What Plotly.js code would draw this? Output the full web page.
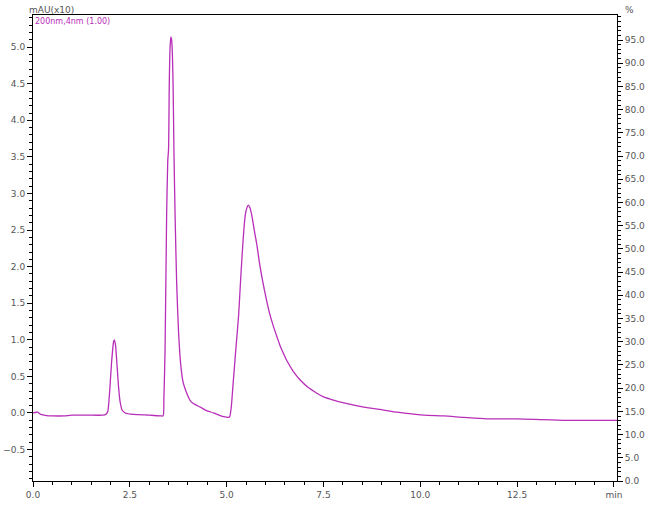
<!DOCTYPE html>
<html>
<head>
<meta charset="utf-8">
<script src="https://cdn.plot.ly/plotly-3.0.1.min.js"></script>
<style>
  body { margin: 0; background: #fff; }
  #grafica { width: 660px; height: 505px; }
</style>
</head>
<body>
<div id="grafica"></div>
<script>
const tiempos = [0.00, 0.08, 0.12, 0.20, 0.35, 0.50, 0.80, 1.00, 1.40, 1.80, 1.88, 1.93, 1.98, 2.03, 2.08, 2.10,
    2.13, 2.17, 2.21, 2.25, 2.30, 2.38, 2.60, 3.00, 3.30, 3.36, 3.38, 3.41, 3.45, 3.48, 3.50, 3.52, 3.54, 3.56,
    3.58, 3.60, 3.62, 3.64, 3.67, 3.71, 3.76, 3.82, 3.88, 3.97, 4.06, 4.14, 4.32, 4.45, 4.66, 4.80, 4.92, 5.05,
    5.08, 5.12, 5.16, 5.20, 5.25, 5.31, 5.37, 5.43, 5.48, 5.52, 5.56, 5.60, 5.65, 5.71, 5.78, 5.84, 5.91,
    5.98, 6.04, 6.12, 6.21, 6.30, 6.38, 6.47, 6.56, 6.72, 6.90, 7.10, 7.33, 7.50, 7.67, 8.00, 8.54, 9.05, 9.40,
    10.09, 10.60, 11.12, 11.72, 12.50, 13.10, 13.70, 14.40, 15.08];
const absorbancia = [0.00, 0.01, 0.01, -0.02, -0.035, -0.04, -0.04, -0.03, -0.03, -0.03, -0.02, 0.02, 0.30, 0.70, 0.97, 1.00,
    0.93, 0.65, 0.35, 0.15, 0.04, 0.00, -0.02, -0.03, -0.04, -0.04, 0.20, 0.86, 2.68, 3.45, 3.60, 4.55, 5.00, 5.14,
    5.10, 4.89, 4.40, 3.55, 2.68, 1.77, 1.09, 0.63, 0.41, 0.27, 0.17, 0.13, 0.08, 0.04, 0.00, -0.03, -0.05, -0.06,
    -0.05, 0.08, 0.35, 0.62, 0.95, 1.34, 1.90, 2.40, 2.70, 2.80, 2.84, 2.81, 2.70, 2.51, 2.30, 2.08, 1.86,
    1.67, 1.52, 1.34, 1.18, 1.04, 0.92, 0.81, 0.71, 0.57, 0.45, 0.35, 0.27, 0.22, 0.19, 0.14, 0.08, 0.04, 0.01,
    -0.03, -0.04, -0.06, -0.08, -0.08, -0.09, -0.10, -0.10, -0.10];

const marcasX = [0, 2.5, 5, 7.5, 10, 12.5, 15];
const textosX = ['0.0', '2.5', '5.0', '7.5', '10.0', '12.5', 'min'];
const marcasPorcentaje = [0, 5, 10, 15, 20, 25, 30, 35, 40, 45, 50, 55, 60, 65, 70, 75, 80, 85, 90, 95];

const FUENTE = {family: 'DejaVu Sans', size: 9, color: '#555'};
const COLOR_LINEA = '#b82eb8';

let datos = [{
    mode: 'lines',
    x: tiempos,
    y: absorbancia,
    line: {color: COLOR_LINEA, width: 1.3, shape: 'spline', smoothing: 0.6},
    hoverinfo: 'x+y'
}, {
    // traza vacia para mostrar el eje derecho (%)
    x: [0], y: [0], yaxis: 'y2', mode: 'lines',
    line: {color: 'rgba(0,0,0,0)'}, hoverinfo: 'skip'
}];

let disposicion = {
    width: 660,
    height: 505,
    margin: {l: 33, r: 43, t: 15, b: 24},
    paper_bgcolor: '#fff',
    plot_bgcolor: '#fff',
    showlegend: false,
    font: FUENTE,
    xaxis: {
        range: [0, 15.08],
        tickvals: marcasX,
        ticktext: textosX,
        ticks: 'outside', ticklen: 5, tickcolor: '#000',
        minor: {dtick: 0.5, ticks: 'outside', ticklen: 3, tickcolor: '#000'},
        showline: true, linecolor: '#000', linewidth: 1, mirror: true,
        showgrid: false, zeroline: false,
        tickfont: FUENTE
    },
    yaxis: {
        range: [-0.93, 5.44],
        dtick: 0.5, tick0: 0, tickformat: '.1f',
        ticks: 'outside', ticklen: 5, tickcolor: '#000',
        minor: {dtick: 0.1, ticks: 'outside', ticklen: 3, tickcolor: '#000'},
        showline: true, linecolor: '#000', linewidth: 1,
        showgrid: false, zeroline: false,
        tickfont: FUENTE
    },
    yaxis2: {
        overlaying: 'y', side: 'right',
        range: [0, 100.4],
        tickvals: marcasPorcentaje, tickformat: '.1f',
        ticks: 'outside', ticklen: 5, tickcolor: '#000',
        minor: {dtick: 1, ticks: 'outside', ticklen: 3, tickcolor: '#000'},
        showline: true, linecolor: '#000', linewidth: 1,
        showgrid: false, zeroline: false,
        tickfont: FUENTE
    },
    annotations: [
        {text: 'mAU(x10)', xref: 'paper', yref: 'paper', x: -0.01, y: 1.0, xanchor: 'left', yanchor: 'bottom',
         showarrow: false, font: FUENTE, yshift: -2},
        {text: '%', xref: 'paper', yref: 'paper', x: 1.0, y: 1.0, xanchor: 'left', yanchor: 'bottom',
         showarrow: false, font: FUENTE, xshift: 6, yshift: -2},
        {text: '200nm,4nm (1.00)', xref: 'paper', yref: 'paper', x: 0, y: 1.0, xanchor: 'left', yanchor: 'top',
         showarrow: false, font: {family: 'DejaVu Sans', size: 8, color: COLOR_LINEA}}
    ]
};

Plotly.newPlot(document.getElementById('grafica'), datos, disposicion, {displayModeBar: false, staticPlot: true});
</script>
</body>
</html>
